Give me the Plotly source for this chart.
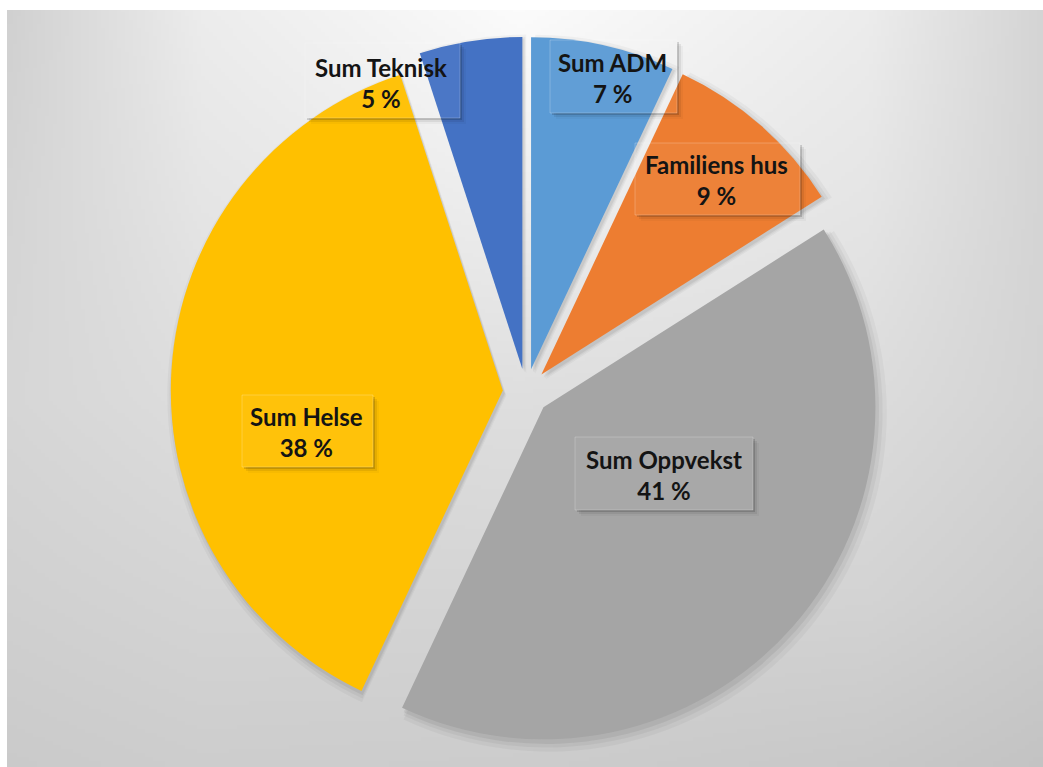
import base64
import struct
import zlib

import plotly.graph_objects as go

# ---------------- data ----------------
labels = ["Sum ADM", "Familiens hus", "Sum Oppvekst", "Sum Helse", "Sum Teknisk"]
values = [7, 9, 41, 38, 5]
colors = ["#5B9BD5", "#ED7D31", "#A5A5A5", "#FFC000", "#4472C4"]

# ---------------- layout constants ----------------
W, H = 1043, 767
FRAME = (7, 10, 1043, 767)          # chart area in px (x0, y0, x1, y1)
PIE_CX, PIE_CY, PIE_R, PULL = 526, 392, 332, 0.07
# label text centres (px) and label box extents (px: x0, y0, x1, y1)
label_centres = [(612, 78), (716, 180), (664, 475), (306, 432), (381, 83)]
label_boxes = [(550, 40, 677, 113), (635, 143, 800, 215), (575, 437, 753, 510),
               (242, 395, 373, 467), (305, 43, 460, 118)]


def px(x):
    return x / W


def py(y):
    return 1 - y / H


# ---------------- background gradient (pure-python PNG) ----------------
gx = [7, 200, 520, 870, 1043]
gy = [10, 200, 400, 600, 767]
gv = [
    [208, 236, 251, 236, 212],
    [212, 229, 238, 229, 212],
    [214, 221, 222, 220, 211],
    [208, 212, 212, 211, 204],
    [202, 205, 204, 200, 195],
]


def interp1(xs, x):
    for i in range(len(xs) - 1):
        if x <= xs[i + 1]:
            t = (x - xs[i]) / (xs[i + 1] - xs[i])
            return i, max(0.0, min(1.0, t))
    return len(xs) - 2, 1.0


def grey_at(x, y):
    i, tx = interp1(gx, x)
    j, ty = interp1(gy, y)
    a = gv[j][i] * (1 - tx) + gv[j][i + 1] * tx
    b = gv[j + 1][i] * (1 - tx) + gv[j + 1][i + 1] * tx
    return int(round(a * (1 - ty) + b * ty))


IW, IH = 259, 189
rows = []
for r in range(IH):
    y = FRAME[1] + (FRAME[3] - FRAME[1]) * (r + 0.5) / IH
    rows.append(bytes(grey_at(FRAME[0] + (FRAME[2] - FRAME[0]) * (c + 0.5) / IW, y) for c in range(IW)))


def chunk(tag, data):
    c = struct.pack(">I", len(data)) + tag + data
    return c + struct.pack(">I", zlib.crc32(tag + data) & 0xFFFFFFFF)


raw = b"".join(b"\x00" + row for row in rows)
png = (b"\x89PNG\r\n\x1a\n"
       + chunk(b"IHDR", struct.pack(">IIBBBBB", IW, IH, 8, 0, 0, 0, 0))
       + chunk(b"IDAT", zlib.compress(raw, 9))
       + chunk(b"IEND", b""))
bg_uri = "data:image/png;base64," + base64.b64encode(png).decode()


# ---------------- figure ----------------
def pie_domain(cx, cy, r):
    half = r * (1 + PULL)
    return dict(x=[px(cx - half), px(cx + half)], y=[py(cy + half), py(cy - half)])


fig = go.Figure()

# soft drop shadow of the slices (drawn first, underneath)
for dx, dy, grow, alpha in ((4, 5, 7, 0.035), (3, 4, 4, 0.045), (2, 3, 1.5, 0.06)):
    fig.add_trace(go.Pie(
        labels=labels, values=values,
        marker=dict(colors=[f"rgba(0,0,0,{alpha})"] * len(values), line=dict(width=0)),
        sort=False, direction="clockwise", rotation=0,
        pull=[PULL] * len(values), textinfo="none", hoverinfo="skip",
        showlegend=False,
        domain=pie_domain(PIE_CX + dx, PIE_CY + dy, PIE_R + grow),
    ))

fig.add_trace(go.Pie(
    labels=labels,
    values=values,
    marker=dict(colors=colors, line=dict(width=0)),
    sort=False,
    direction="clockwise",
    rotation=0,
    pull=[PULL] * len(values),
    textinfo="none",
    hoverinfo="label+percent",
    showlegend=False,
    domain=pie_domain(PIE_CX, PIE_CY, PIE_R),
))

total = sum(values)
shapes = []
annotations = []
for lab, v, (tx, ty), (bx0, by0, bx1, by1) in zip(labels, values, label_centres, label_boxes):
    # soft shadow (bottom/right)
    for off, alpha in ((2, 0.15), (4, 0.07), (6, 0.03)):
        shapes.append(dict(type="rect", xref="paper", yref="paper",
                           x0=px(bx0 + off), x1=px(bx1 + off), y0=py(by1 + off), y1=py(by1),
                           line=dict(width=0), fillcolor=f"rgba(0,0,0,{alpha})", layer="above"))
        shapes.append(dict(type="rect", xref="paper", yref="paper",
                           x0=px(bx1), x1=px(bx1 + off), y0=py(by1), y1=py(by0 + off),
                           line=dict(width=0), fillcolor=f"rgba(0,0,0,{alpha})", layer="above"))
    shapes.append(dict(type="rect", xref="paper", yref="paper",
                       x0=px(bx0), x1=px(bx1), y0=py(by1), y1=py(by0),
                       line=dict(width=1, color="rgba(255,255,255,0.22)"),
                       fillcolor="rgba(255,255,255,0.04)", layer="above"))
    pct = round(v / total * 100)
    annotations.append(dict(
        x=px(tx), y=py(ty), xref="paper", yref="paper",
        text=f"{lab}<br>{pct} %", showarrow=False,
        xanchor="center", yanchor="middle", align="center",
        font=dict(family="Lato", size=24, color="#141414", weight="bold"),
    ))

fig.update_layout(
    width=W, height=H,
    margin=dict(l=0, r=0, t=0, b=0),
    paper_bgcolor="white",
    plot_bgcolor="white",
    images=[dict(source=bg_uri, xref="paper", yref="paper",
                 x=px(FRAME[0]), y=py(FRAME[1]),
                 sizex=px(FRAME[2]) - px(FRAME[0]), sizey=py(FRAME[1]) - py(FRAME[3]),
                 sizing="stretch", layer="below", xanchor="left", yanchor="top")],
    shapes=shapes,
    annotations=annotations,
)

fig.write_html(
    "out.html",
    config={"displayModeBar": False},
    post_script="document.body.style.margin='0';document.body.style.overflow='hidden';"
                "document.documentElement.style.overflow='hidden';",
)
